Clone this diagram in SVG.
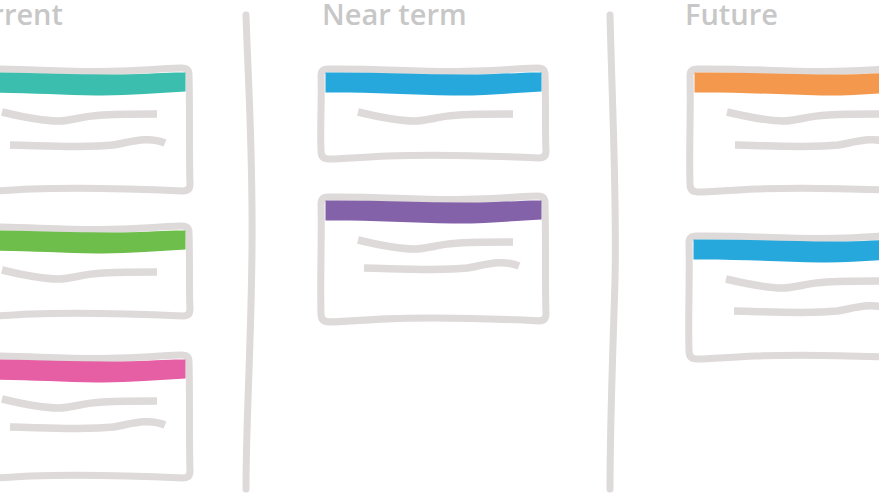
<svg xmlns="http://www.w3.org/2000/svg" xmlns:xlink="http://www.w3.org/1999/xlink" width="879" height="496" viewBox="0 0 879 496">
  <style>
    .title { font-family: "Open Sans", "Noto Sans", "Liberation Sans", sans-serif; font-size: 29px; font-weight: 600; fill: #c8c7c7; }
    .frame { fill: #ffffff; stroke: #dddad9; stroke-width: 7; stroke-linejoin: round; }
    .line { fill: none; stroke: #dddad9; stroke-width: 7.5; stroke-linecap: butt; }
    .divider { fill: none; stroke: #dddad9; stroke-width: 7; stroke-linecap: round; }
  </style>
  <defs>
    <path id="frameTall" class="frame" d="M 11 4 C 60 3, 110 8, 160 6 C 190 5, 210 3, 221 3 Q 228 3 228 10 C 229 50, 228 90, 229 119 Q 229 126 222 126 C 180 124, 120 122, 70 124 C 45 125, 25 127, 12 127 Q 4 127 4 119 C 3 80, 5 40, 4 11 Q 4 4 11 4 Z"/>
    <path id="frameShort" class="frame" d="M 11 4 C 60 3, 110 8, 160 6 C 190 5, 210 3, 221 3 Q 228 3 228 10 C 229 40, 228 70, 229 86 Q 229 93 222 93 C 180 91, 120 89, 70 91 C 45 92, 25 94, 12 94 Q 4 94 4 86 C 3 60, 5 30, 4 11 Q 4 4 11 4 Z"/>
    <path id="band" d="M 8.5 7.5 C 60 7, 110 10, 160 9.5 C 190 9, 210 7, 224.5 7.5 L 224.5 26.5 C 195 28, 165 31, 135 30.5 C 95 29.5, 45 27, 8.5 27.5 Z"/>
    <path id="line1" class="line" d="M 41 47 C 62 52, 80 56, 97 56 C 112 56, 120 51, 142 50 C 162 49, 180 49, 196 49"/>
    <path id="line2" class="line" d="M 47 75 C 90 76, 125 78, 150 75 C 168 72, 185 66, 202 73"/>
  </defs>

  <g id="headers">
    <text class="title" x="63" y="25" text-anchor="end">rrent</text>
    <text class="title" x="322" y="25">Near term</text>
    <text class="title" x="685" y="25">Future</text>
  </g>

  <g id="dividers">
    <path class="divider" d="M 246 15 C 248 80, 253 150, 252 250 C 251 350, 246 420, 246 489"/>
    <path class="divider" d="M 610 15 C 612 100, 617 200, 615 280 C 613 350, 610 420, 610 489"/>
  </g>

  <g id="card-current-teal" transform="translate(-39,65)">
    <use xlink:href="#frameTall"/>
    <use xlink:href="#band" fill="#3cbeae"/>
    <use xlink:href="#line1"/>
    <use xlink:href="#line2" transform="translate(2,5)"/>
  </g>
  <g id="card-current-green" transform="translate(-39,223)">
    <use xlink:href="#frameShort"/>
    <use xlink:href="#band" fill="#6dbe4b"/>
    <use xlink:href="#line1"/>
  </g>
  <g id="card-current-pink" transform="translate(-39,352)">
    <use xlink:href="#frameTall"/>
    <use xlink:href="#band" fill="#e65ea3"/>
    <use xlink:href="#line1"/>
    <use xlink:href="#line2" transform="translate(2,0)"/>
  </g>

  <g id="card-near-blue" transform="translate(317,65)">
    <use xlink:href="#frameShort"/>
    <use xlink:href="#band" fill="#26a8dc"/>
    <use xlink:href="#line1"/>
  </g>
  <g id="card-near-purple" transform="translate(317,193)">
    <use xlink:href="#frameTall" transform="scale(1,1.015)"/>
    <use xlink:href="#band" fill="#8462aa"/>
    <use xlink:href="#line1"/>
    <use xlink:href="#line2"/>
  </g>

  <g id="card-future-orange" transform="translate(686,65)">
    <use xlink:href="#frameTall"/>
    <use xlink:href="#band" fill="#f3984c"/>
    <use xlink:href="#line1"/>
    <use xlink:href="#line2" transform="translate(2,5)"/>
  </g>
  <g id="card-future-blue" transform="translate(685,232)">
    <use xlink:href="#frameTall"/>
    <use xlink:href="#band" fill="#26a8dc"/>
    <use xlink:href="#line1"/>
    <use xlink:href="#line2" transform="translate(2,4)"/>
  </g>
</svg>
